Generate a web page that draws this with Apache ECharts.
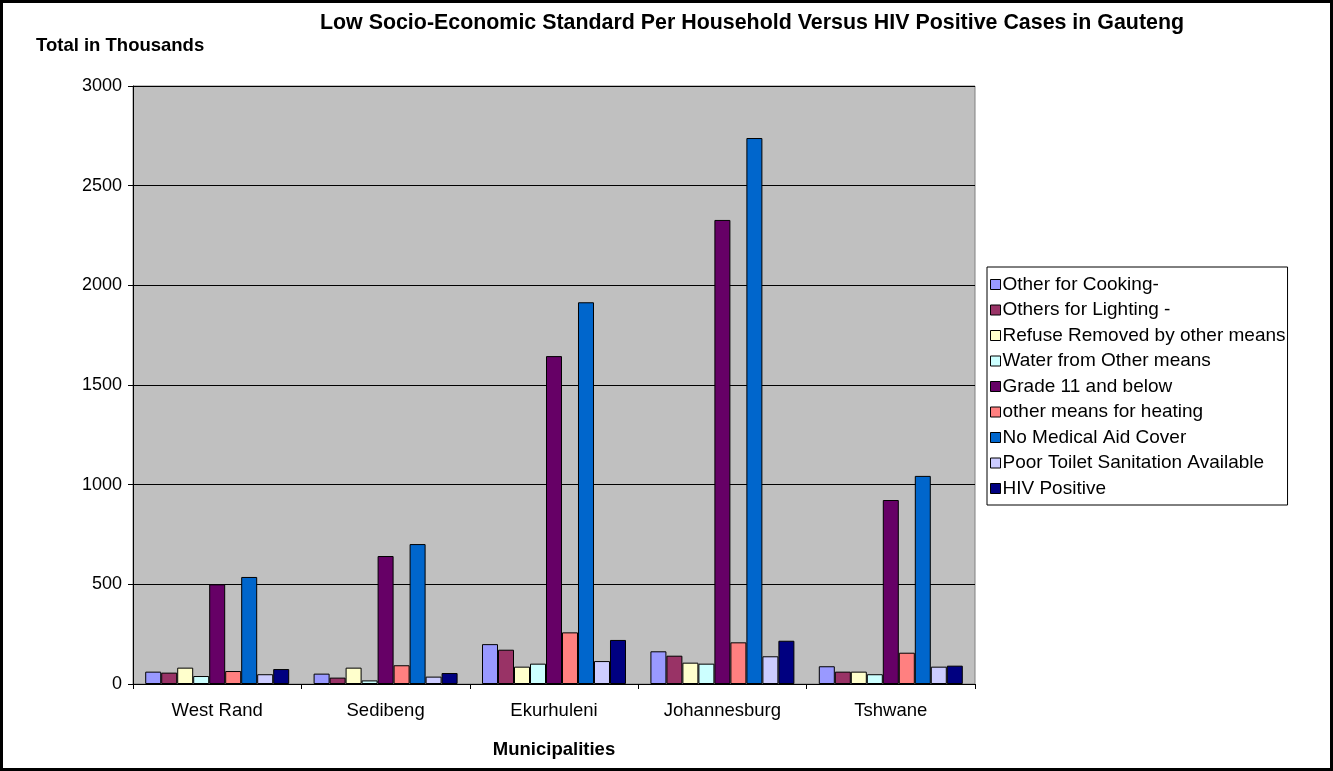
<!DOCTYPE html>
<html>
<head>
<meta charset="utf-8">
<script src="https://cdn.jsdelivr.net/npm/echarts@6/dist/echarts.min.js"></script>
<style>
  html, body { margin: 0; padding: 0; background: #fff; }
  #chart { width: 1333px; height: 771px; box-sizing: border-box; border: 3px solid #000; }
</style>
</head>
<body>
<div id="chart"></div>
<script>
// municipalities on the x axis
const municipalities = ['West Rand', 'Sedibeng', 'Ekurhuleni', 'Johannesburg', 'Tshwane']

// totals in thousands, one array per indicator (same order as municipalities)
const otherCooking   = [62, 52, 200, 164, 89]
const othersLighting = [57, 32, 172, 142, 62]
const refuseOther    = [82, 82, 87, 107, 62]
const waterOther     = [40, 18, 102, 102, 49]
const grade11Below   = [500, 642, 1645, 2328, 923]
const heatingOther   = [65, 94, 259, 209, 157]
const noMedicalAid   = [537, 702, 1915, 2739, 1044]
const poorToilet     = [49, 37, 115, 139, 87]
const hivPositive    = [75, 55, 221, 217, 92]

const yTicks = [0, 500, 1000, 1500, 2000, 2500, 3000]

const seriesDefs = [
  ['Other for Cooking-', otherCooking, '#9999FF'],
  ['Others for Lighting -', othersLighting, '#993366'],
  ['Refuse Removed by other means', refuseOther, '#FFFFCC'],
  ['Water from Other means', waterOther, '#CCFFFF'],
  ['Grade 11 and below', grade11Below, '#660066'],
  ['other means for heating', heatingOther, '#FF8080'],
  ['No Medical Aid Cover', noMedicalAid, '#0066CC'],
  ['Poor Toilet Sanitation Available', poorToilet, '#CCCCFF'],
  ['HIV Positive', hivPositive, '#000080']
]

const font = 'Liberation Sans, Arial, sans-serif'
const myChart = echarts.init(document.getElementById('chart'))

// note: canvas sits inside a 3px css border, so all positions are shifted by -3
const option = {
  animation: false,
  textStyle: { fontFamily: font },
  title: [{
    text: 'Low Socio-Economic Standard Per Household Versus HIV Positive Cases in Gauteng',
    left: 744, top: 5, textAlign: 'center',
    textStyle: { fontSize: 21.4, fontWeight: 'bold', color: '#000', fontFamily: font }
  }, {
    text: 'Total in Thousands',
    left: 28, top: 28,
    textStyle: { fontSize: 18.5, fontWeight: 'bold', color: '#000', fontFamily: font }
  }],
  legend: {
    orient: 'vertical',
    left: 984, top: 264,
    padding: [8, 2, 7, 3],
    backgroundColor: '#fff',
    borderColor: '#000', borderWidth: 1,
    itemWidth: 10, itemHeight: 10, itemGap: 6.5,
    icon: 'rect',
    textStyle: { fontSize: 19, color: '#000', padding: [0, 0, 0, -3], lineHeight: 18, fontFamily: font },
    data: seriesDefs.map(d => ({ name: d[0], itemStyle: { borderColor: '#000', borderWidth: 1 } }))
  },
  grid: { left: 130, top: 83, width: 842, height: 598, show: true, backgroundColor: '#C0C0C0', borderColor: '#808080', borderWidth: 1 },
  xAxis: {
    type: 'category',
    data: municipalities,
    name: 'Municipalities', nameLocation: 'middle', nameGap: 56,
    nameTextStyle: { fontSize: 18.5, fontWeight: 'bold', color: '#000', fontFamily: font },
    axisLine: { lineStyle: { color: '#000', width: 1 } },
    axisTick: { show: true, length: 5, lineStyle: { color: '#000' } },
    axisLabel: { fontSize: 18.5, color: '#000', margin: 17, fontFamily: font }
  },
  yAxis: {
    type: 'value',
    min: yTicks[0], max: yTicks[yTicks.length - 1], interval: 500,
    axisLine: { show: true, lineStyle: { color: '#000' } },
    axisTick: { show: true, length: 5, lineStyle: { color: '#000' } },
    axisLabel: { fontSize: 18, color: '#000', margin: 11, fontFamily: font, formatter: v => String(v) },
    splitLine: { lineStyle: { color: '#000', width: 1 } }
  },
  series: seriesDefs.map(d => ({
    name: d[0],
    type: 'bar',
    data: d[1],
    barGap: 0,
    barCategoryGap: '14.5%',
    itemStyle: { color: d[2], borderColor: '#000', borderWidth: 1 }
  }))
}

myChart.setOption(option)
</script>
</body>
</html>
